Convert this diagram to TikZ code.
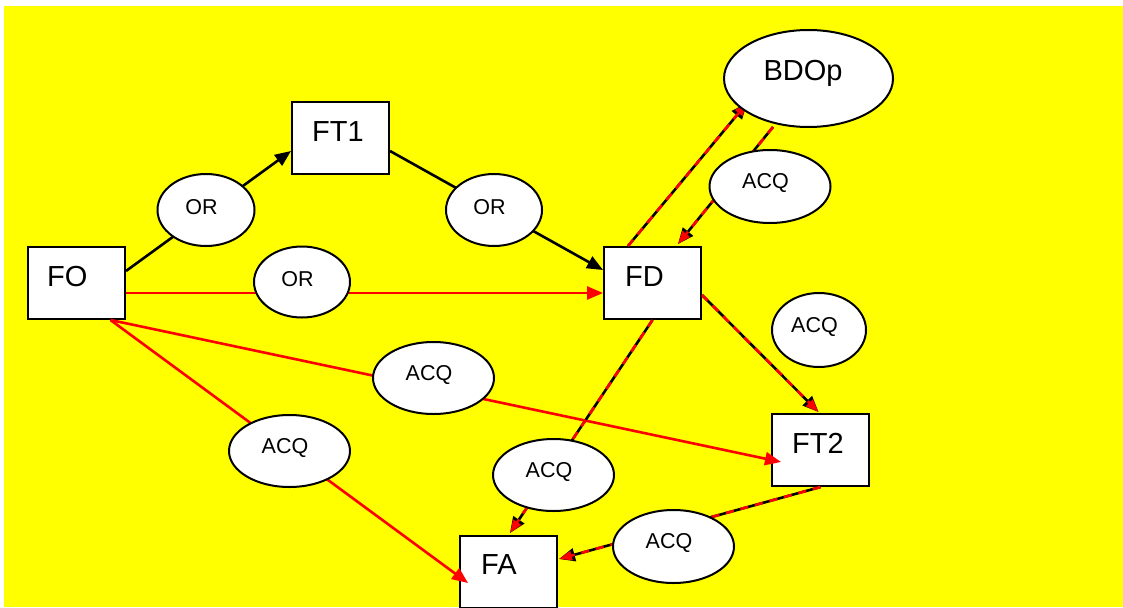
\documentclass[tikz,border=0pt]{standalone}
\usepackage{fontspec}
\setmainfont{Liberation Sans}
\usetikzlibrary{arrows.meta,calc,shapes.geometric}
\definecolor{bgyellow}{RGB}{255,255,0}
\definecolor{lnred}{RGB}{255,0,0}
\pgfdeclarelayer{bg}
\pgfdeclarelayer{edges}
\pgfdeclarelayer{fg}
\pgfsetlayers{bg,main,edges,fg}
\begin{document}
\begin{tikzpicture}[x=1pt,y=-1pt,
  box/.style={draw=black,fill=white,line width=2pt,minimum width=97pt,minimum height=72pt,inner sep=0pt},
  boxtext/.style={font=\fontsize{29}{30}\selectfont,inner sep=0pt,anchor=base west},
  ell/.style={ellipse,draw=black,fill=white,line width=2pt,inner sep=0pt},
  lbl/.style={font=\fontsize{21.5}{22}\selectfont,inner sep=0pt,xshift=-4.5pt,yshift=3pt},
  biglbl/.style={font=\fontsize{29}{30}\selectfont,inner sep=0pt,xshift=-5.5pt,yshift=5pt},
  tip/.style={-{Triangle[length=16pt,width=13pt]}},
  blk/.style={draw=black,line width=2.6pt,tip},
  redl/.style={draw=lnred,line width=2.6pt,tip},
  reddash/.style={draw=lnred,line width=2.6pt,dash pattern=on 8pt off 7pt,-{Triangle[length=13pt,width=9pt]}}
]
\useasboundingbox (0,0) rectangle (1123,607);
\begin{pgfonlayer}{bg}
  \fill[white] (0,0) rectangle (1123,607);
  \fill[bgyellow] (4,6) rectangle (1123,607);
\end{pgfonlayer}

% boxes
\node[box] (FO)  at (76.5,283) {};
\node[box] (FT1) at (340.5,138) {};
\node[box] (FD)  at (652.5,283) {};
\node[box] (FT2) at (820.5,450) {};
\node[box] (FA)  at (508.5,572) {};
\node[boxtext] (FOt)  at ($(FO.west)+(20,3)$) {FO};
\node[boxtext] (FT1t) at ($(FT1.west)+(21,3)$) {FT1};
\node[boxtext] (FDt)  at ($(FD.west)+(22,3)$) {FD};
\node[boxtext] (FT2t) at ($(FT2.west)+(21,3)$) {FT2};
\node[boxtext] (FAt)  at ($(FA.west)+(22,2)$) {FA};

% ellipses
\begin{pgfonlayer}{fg}
  \node[ell,minimum width=169pt,minimum height=97pt,label={[biglbl,name=BDOpt]center:BDOp}] (BDOp) at (808.5,78.5) {};
  \node[ell,minimum width=97pt,minimum height=72pt,label={[lbl,name=or1t]center:OR}] (or1) at (206,210) {};
  \node[ell,minimum width=96pt,minimum height=72pt,label={[lbl,name=or2t]center:OR}] (or2) at (494,210) {};
  \node[ell,minimum width=96pt,minimum height=71pt,label={[lbl,name=or3t]center:OR}] (or3) at (302,282) {};
  \node[ell,minimum width=121pt,minimum height=73pt,label={[lbl,name=acq1t]center:ACQ}] (acq1) at (770,186.5) {};
  \node[ell,minimum width=94pt,minimum height=74pt,label={[lbl,name=acq2t]center:ACQ}] (acq2) at (819,330) {};
  \node[ell,minimum width=121pt,minimum height=72pt,label={[lbl,name=acq3t]center:ACQ}] (acq3) at (433.5,378) {};
  \node[ell,minimum width=121pt,minimum height=72pt,label={[lbl,name=acq4t]center:ACQ}] (acq4) at (289.5,451) {};
  \node[ell,minimum width=121pt,minimum height=72pt,label={[lbl,name=acq5t]center:ACQ}] (acq5) at (553.5,475) {};
  \node[ell,minimum width=121pt,minimum height=73pt,label={[lbl,name=acq6t]center:ACQ}] (acq6) at (673.5,546.5) {};
\end{pgfonlayer}

% connectors
\begin{pgfonlayer}{edges}
  \draw[blk] ($(FO.east)+(0,-12)$) -- ($(FT1.west)+(0,13)$);
  \draw[blk] ($(FT1.east)+(0,13)$) -- ($(FD.west)+(0,-13)$);
  \draw[redl] ($(FO.east)+(0,10)$) -- ($(FD.west)+(0,10)$);
  \draw[redl] ($(FO.south)+(34,0)$) -- ($(FT2.west)+(10,12)$);
  \draw[redl] ($(FO.south)+(34,0)$) -- ($(FA.west)+(9,11)$);
  % dashed red/black
  \draw[blk] ($(FD.north)+(-24.5,0)$) -- ($(BDOp.center)+(-61.5,24.5)$);
  \draw[reddash] ($(FD.north)+(-24.5,0)$) -- ($(BDOp.center)+(-61.5,24.5)$);
  \draw[blk] ($(BDOp.center)+(-35.5,48.5)$) -- ($(FD.north)+(25.5,-2)$);
  \draw[reddash] ($(BDOp.center)+(-35.5,48.5)$) -- ($(FD.north)+(25.5,-2)$);
  \draw[blk] ($(FD.east)+(0,12)$) -- ($(FT2.north)+(-2,-1)$);
  \draw[reddash] ($(FD.east)+(0,12)$) -- ($(FT2.north)+(-2,-1)$);
  \draw[blk] (FD.south) -- ($(FA.north)+(1.5,-2)$);
  \draw[reddash] (FD.south) -- ($(FA.north)+(1.5,-2)$);
  \draw[blk] (FT2.south) -- ($(FA.east)+(1,-13)$);
  \draw[reddash] (FT2.south) -- ($(FA.east)+(1,-13)$);
\end{pgfonlayer}
\end{tikzpicture}
\end{document}
